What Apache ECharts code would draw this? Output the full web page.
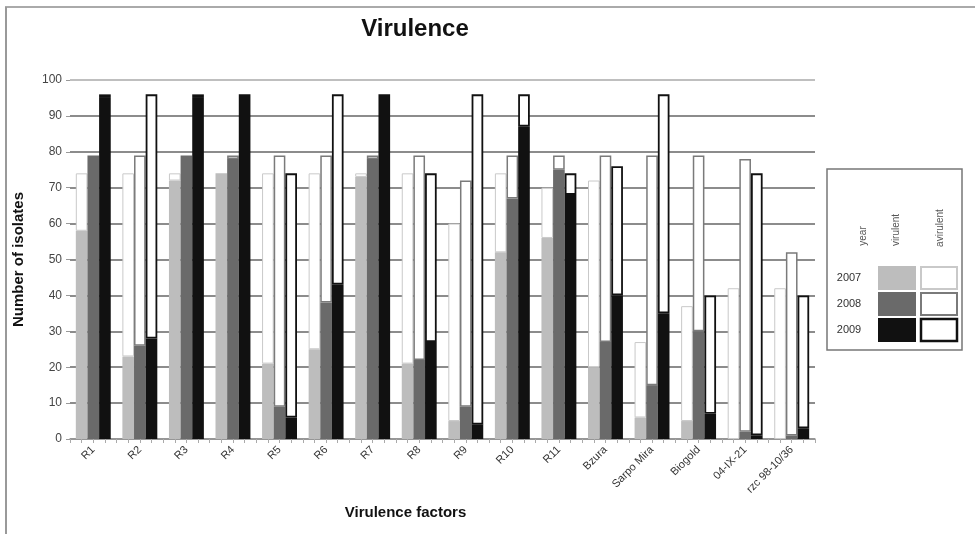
<!DOCTYPE html>
<html>
<head>
<meta charset="utf-8">
<script src="https://cdn.jsdelivr.net/npm/echarts@6/dist/echarts.min.js"></script>
<style>
html,body{margin:0;padding:0;background:#fff;}
#main{width:975px;height:534px;}
</style>
</head>
<body>
<div id="main"></div>
<script>
const categories = ['R1','R2','R3','R4','R5','R6','R7','R8','R9','R10','R11','Bzura','Sarpo Mira','Biogold','04-IX-21','rzc 98-10/36'];
const yTicks = [0,10,20,30,40,50,60,70,80,90,100];
const years = ['2007','2008','2009'];

const virulent2007  = [58, 23, 72, 74, 21, 25, 73, 21,  5, 52, 56, 20,  6,  5,  0,  0];
const avirulent2007 = [16, 51,  2,  0, 53, 49,  1, 53, 55, 22, 14, 52, 21, 32, 42, 42];
const virulent2008  = [79, 26, 79, 78,  9, 38, 78, 22,  9, 67, 75, 27, 15, 30,  2,  1];
const avirulent2008 = [ 0, 53,  0,  1, 70, 41,  1, 57, 63, 12,  4, 52, 64, 49, 76, 51];
const virulent2009  = [95, 28, 95, 96,  6, 43, 96, 27,  4, 87, 68, 40, 35,  7,  1,  3];
const avirulent2009 = [ 1, 68,  1,  0, 68, 53,  0, 47, 92,  9,  6, 36, 61, 33, 73, 37];

const virColors = ['#bdbdbd', '#6a6a6a', '#111111'];
const avirBorders = ['#c9c9c9', '#7a7a7a', '#111111'];
const avirBorderW = [1, 1.5, 1.8];

const FONT = 'Liberation Sans, Arial, sans-serif';
const nz = arr => arr.map(v => v === 0 ? '-' : v);

const virData = [virulent2007, virulent2008, virulent2009];
const avirData = [avirulent2007, avirulent2008, avirulent2009];

const series = [];
years.forEach((y, i) => {
  series.push({
    name: y + ' virulent', type: 'bar', stack: 's' + y, barWidth: '25%', barGap: '0%',
    data: nz(virData[i]),
    itemStyle: { color: virColors[i] },
    emphasis: { disabled: true }
  });
  series.push({
    name: y + ' avirulent', type: 'bar', stack: 's' + y, barWidth: '25%', barGap: '0%',
    data: nz(avirData[i]),
    itemStyle: { color: '#ffffff', borderColor: avirBorders[i], borderWidth: avirBorderW[i] },
    emphasis: { disabled: true }
  });
});

// Legend table (graphic)
const LX = 827, LY = 169;
const legendEls = [
  { type: 'rect', shape: { x: LX, y: LY, width: 135, height: 181 }, style: { fill: '#fff', stroke: '#777', lineWidth: 1.5 } },
  { type: 'text', x: 863, y: 236, rotation: Math.PI / 2, style: { text: 'year', fill: '#555', font: '10px ' + FONT, align: 'center', verticalAlign: 'middle' } },
  { type: 'text', x: 896, y: 230, rotation: Math.PI / 2, style: { text: 'virulent', fill: '#555', font: '10px ' + FONT, align: 'center', verticalAlign: 'middle' } },
  { type: 'text', x: 940, y: 228, rotation: Math.PI / 2, style: { text: 'avirulent', fill: '#555', font: '10px ' + FONT, align: 'center', verticalAlign: 'middle' } }
];
years.forEach((y, i) => {
  const ry = 266 + i * 26;
  legendEls.push({ type: 'text', x: 849, y: ry + 12, style: { text: y, fill: '#333', font: '11px ' + FONT, align: 'center', verticalAlign: 'middle' } });
  legendEls.push({ type: 'rect', shape: { x: 878, y: ry, width: 38, height: 24 }, style: { fill: virColors[i] } });
  legendEls.push({ type: 'rect', shape: { x: 921, y: ry + 1, width: 36, height: 22 }, style: { fill: '#fff', stroke: avirBorders[i], lineWidth: i === 2 ? 2.5 : 2 } });
});

const option = {
  backgroundColor: '#ffffff',
  animation: false,
  title: {
    text: 'Virulence', left: 410, top: 12, textAlign: 'center',
    textStyle: { fontFamily: FONT, fontSize: 24, fontWeight: 'bold', color: '#111' }
  },
  grid: { left: 70, right: 160, top: 80, bottom: 95 },
  xAxis: [{
    type: 'category', data: categories,
    name: 'Virulence factors', nameLocation: 'middle', nameGap: 66,
    nameTextStyle: { fontFamily: FONT, fontSize: 15, fontWeight: 'bold', color: '#111', padding: [0, 74, 0, 0] },
    axisLine: { lineStyle: { color: '#999', width: 1.5 } },
    axisTick: { show: false },
    axisLabel: { rotate: 45, fontFamily: FONT, fontSize: 11, color: '#333', margin: 9, interval: 0 }
  }, {
    type: 'category', data: Array(64).fill(''), position: 'bottom',
    axisLine: { show: false },
    axisTick: { show: true, length: 4, lineStyle: { color: '#aaa' } },
    axisLabel: { show: false }, splitLine: { show: false }
  }],
  yAxis: {
    type: 'value', min: 0, max: 100, interval: 10,
    name: 'Number of isolates', nameLocation: 'middle', nameGap: 44,
    nameTextStyle: { fontFamily: FONT, fontSize: 15, fontWeight: 'bold', color: '#111' },
    axisLine: { show: false },
    axisTick: { show: true, length: 4, lineStyle: { color: '#999' } },
    axisLabel: { fontFamily: FONT, fontSize: 12, color: '#444', margin: 8 },
    splitLine: { lineStyle: { color: ['#666','#666','#666','#666','#666','#666','#666','#666','#666','#666','#aaa'].slice(0, yTicks.length), width: 1.5 } }
  },
  series: series,
  graphic: [
    { type: 'line', shape: { x1: 5, y1: 7, x2: 975, y2: 7 }, style: { stroke: '#aaa', lineWidth: 2 } },
    { type: 'line', shape: { x1: 6, y1: 7, x2: 6, y2: 534 }, style: { stroke: '#999', lineWidth: 2 } }
  ].concat(legendEls)
};

const chart = echarts.init(document.getElementById('main'), null, { renderer: 'canvas' });
chart.setOption(option);
</script>
</body>
</html>
